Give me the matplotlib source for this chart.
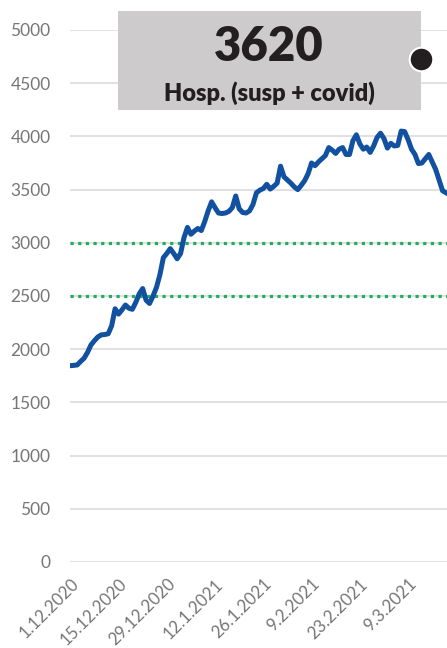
import matplotlib
matplotlib.use("Agg")
import matplotlib.pyplot as plt
import numpy as np
import pandas as pd
from matplotlib.patches import Rectangle

# daily hospitalisations (suspected + covid)
start = "2020-12-01"
hosp = [1845, 1848, 1852, 1885, 1915, 1970, 2040, 2080, 2115, 2135,
        2138, 2145, 2220, 2380, 2330, 2370, 2415, 2385, 2375, 2440,
        2520, 2570, 2460, 2430, 2500, 2580, 2700, 2860, 2900, 2945,
        2900, 2850, 2900, 3050, 3145, 3080, 3110, 3135, 3115, 3200,
        3300, 3385, 3330, 3280, 3275, 3280, 3295, 3330, 3440, 3320,
        3285, 3280, 3300, 3360, 3470, 3495, 3510, 3550, 3505, 3530,
        3560, 3720, 3620, 3590, 3560, 3525, 3500, 3540, 3585, 3650,
        3750, 3725, 3760, 3790, 3820, 3895, 3870, 3840, 3880, 3895,
        3830, 3830, 3960, 4015, 3930, 3880, 3900, 3850, 3910, 3990,
        4030, 3980, 3890, 3935, 3910, 3915, 4050, 4045, 3970, 3880,
        3830, 3745, 3750, 3790, 3830, 3760, 3690, 3590, 3490, 3470,
        3455]
thresholds = [2500, 3000]
y_ticks = [0, 500, 1000, 1500, 2000, 2500, 3000, 3500, 4000, 4500, 5000]
x_ticks = ["2020-12-01", "2020-12-15", "2020-12-29", "2021-01-12", "2021-01-26",
           "2021-02-09", "2021-02-23", "2021-03-09"]
x_labels = ["1.12.2020", "15.12.2020", "29.12.2020", "12.1.2021", "26.1.2021",
            "9.2.2021", "23.2.2021", "9.3.2021"]
big_number = "3620"
box_label = "Hosp. (susp + covid)"

dates = pd.date_range(start, periods=len(hosp), freq="D")

plt.rcParams['font.family'] = ['Lato', 'DejaVu Sans']

fig = plt.figure(figsize=(4.47, 6.48), dpi=100)
ax = fig.add_axes([70/447, 86/648, 1 - 70/447, (562-30)/648])

for v in y_ticks:
    ax.axhline(v, color="#dcdcdc", lw=1.2, zorder=0)
for t in thresholds:
    ax.axhline(t, color="#22ad5c", lw=2.3, linestyle=(0, (1, 1.4)), zorder=1)

ax.plot(dates, hosp, color="#1250a0", lw=3.6, solid_joinstyle="round", zorder=3)

ax.set_ylim(0, 5000)
ax.set_xlim(pd.Timestamp(start) - pd.Timedelta(hours=2), pd.Timestamp("2021-03-20 07:00"))
ax.set_yticks(y_ticks)
ax.set_yticklabels([str(v) for v in y_ticks])
ax.set_xticks(pd.to_datetime(x_ticks))
ax.set_xticklabels(x_labels, rotation=45, ha="right", rotation_mode="anchor")
ax.tick_params(axis="y", length=0, pad=14, labelsize=12.5, labelcolor="#767676")
ax.tick_params(axis="x", length=0, pad=10, labelsize=12.2, labelcolor="#767676")
for s in ax.spines.values():
    s.set_visible(False)

# grey info box at the top
fig.patches.append(Rectangle((118/447, 1 - 110/648), 303/447, 99/648,
                             transform=fig.transFigure, facecolor="#cdcbcc",
                             edgecolor="none", zorder=5))
fig.text(269/447, 1 - 47/648, big_number, ha="center", va="center",
         fontsize=34, fontweight="heavy", color="#231f20", zorder=6)
fig.text(269/447, 1 - 93/648, box_label, ha="center", va="center",
         fontsize=17, fontweight="heavy", color="#231f20", zorder=6)
fig.add_artist(plt.Line2D([421/447], [1 - 59/648], marker="o", markersize=17,
                          markerfacecolor="#231f20", markeredgecolor="white",
                          markeredgewidth=1.5, transform=fig.transFigure, zorder=7))

fig.savefig("out.png", dpi=100)
